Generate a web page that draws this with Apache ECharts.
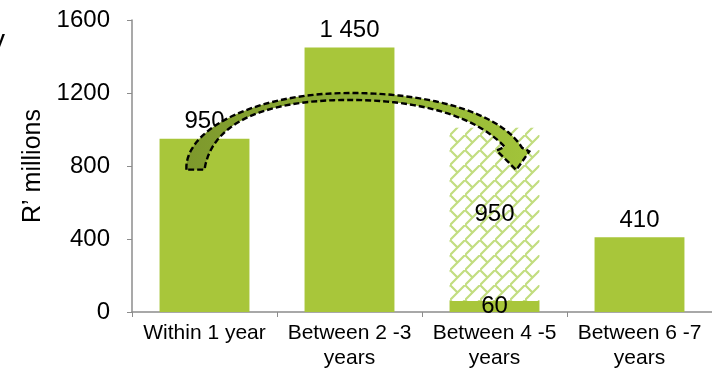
<!DOCTYPE html>
<html>
<head>
<meta charset="utf-8">
<script src="https://cdn.jsdelivr.net/npm/echarts@6/dist/echarts.min.js"></script>
<style>
  html, body { margin: 0; padding: 0; background: #fff; }
  #chart { width: 712px; height: 371px; }
</style>
</head>
<body>
<div id="chart"></div>
<script>
// Maturity profile, R' millions
const categories = ['Within 1 year', 'Between 2 -3\nyears', 'Between 4 -5\nyears', 'Between 6 -7\nyears'];
const solidValues = [950, 1450, 60, 410];
const shiftedValues = [null, null, 950, null];   // amount moved into the 4-5 year bucket
const yTicks = { min: 0, max: 1600, interval: 400 };

const GREEN = '#a8c63a';
const FONT = '"Liberation Sans", Arial, sans-serif';

// brick-style lattice fill for the shifted amount
function makeLattice() {
  const s = 15;
  const c = document.createElement('canvas');
  c.width = s; c.height = s;
  const g = c.getContext('2d');
  g.fillStyle = '#ffffff';
  g.fillRect(0, 0, s, s);
  g.strokeStyle = '#c2dd80';
  g.lineWidth = 2.2;
  g.lineCap = 'square';
  g.beginPath();
  g.moveTo(-1, s + 1); g.lineTo(s + 1, -1);
  g.moveTo(0, 0); g.lineTo(s / 2, s / 2);
  g.stroke();
  return c;
}

function spaced(v) {
  return String(v).replace(/\B(?=(\d{3})+(?!\d))/g, ' ');
}

const chart = echarts.init(document.getElementById('chart'), null, { renderer: 'canvas' });

chart.setOption({
  animation: false,
  backgroundColor: '#ffffff',
  grid: { left: 132, right: 0, top: 20, bottom: 59 },
  xAxis: {
    type: 'category',
    data: categories,
    axisLine: { lineStyle: { color: '#8c8c8c', width: 1.5 } },
    axisTick: { show: true, length: 5, lineStyle: { color: '#8c8c8c' } },
    axisLabel: { color: '#000', fontFamily: FONT, fontSize: 21, lineHeight: 25, margin: 9, interval: 0 }
  },
  yAxis: {
    type: 'value',
    min: yTicks.min, max: yTicks.max, interval: yTicks.interval,
    name: 'R’ millions',
    nameLocation: 'middle',
    nameRotate: 90,
    nameGap: 85,
    nameTextStyle: { color: '#000', fontFamily: FONT, fontSize: 25 },
    splitLine: { show: false },
    axisLine: { show: true, lineStyle: { color: '#8c8c8c', width: 1.5 } },
    axisTick: { show: true, length: 5, lineStyle: { color: '#8c8c8c' } },
    axisLabel: { color: '#000', fontFamily: FONT, fontSize: 24, margin: 22, formatter: v => String(v) }
  },
  series: [
    {
      type: 'bar',
      stack: 'total',
      barWidth: '62%',
      data: solidValues.map((v, i) => ({
        value: v,
        label: i === 2 ? { position: 'inside' } : {}
      })),
      itemStyle: { color: GREEN },
      label: {
        show: true, position: 'top', distance: 5,
        color: '#000', fontFamily: FONT, fontSize: 24,
        formatter: p => spaced(p.value)
      }
    },
    {
      type: 'bar',
      stack: 'total',
      barWidth: '62%',
      data: shiftedValues,
      itemStyle: { color: { image: makeLattice(), repeat: 'repeat' } },
      label: {
        show: true, position: 'inside',
        color: '#000', fontFamily: FONT, fontSize: 24,
        formatter: p => spaced(p.value)
      }
    }
  ]
});

// curved arrow from the first bucket over to the 4-5 year bucket,
// laid out in (category offset, value) units
const c0 = chart.convertToPixel({ xAxisIndex: 0, yAxisIndex: 0 }, [0, 0]);
const c1 = chart.convertToPixel({ xAxisIndex: 0, yAxisIndex: 0 }, [1, 0]);
const band = c1[0] - c0[0];
function P(cat, val) {
  const y = chart.convertToPixel({ yAxisIndex: 0 }, val);
  return [c0[0] + cat * band, y];
}
// sample a cubic Bezier (excluding its start point)
function cubic(a, b, c, d, n) {
  const out = [];
  for (let i = 1; i <= n; i++) {
    const t = i / n, u = 1 - t;
    out.push([
      u * u * u * a[0] + 3 * u * u * t * b[0] + 3 * u * t * t * c[0] + t * t * t * d[0],
      u * u * u * a[1] + 3 * u * u * t * b[1] + 3 * u * t * t * c[1] + t * t * t * d[1]
    ]);
  }
  return out;
}

const tailL = P(-0.125, 780), tailR = P(0.0, 780);
const peakO = P(1.0, 1200), peakI = P(1.0, 1162);
const shaftO = P(2.19, 900), shaftI = P(2.07, 905);
const barbR = P(2.24, 880), barbL = P(2.015, 885), tip = P(2.15, 778);

const arrowPts = [tailL]
  .concat(cubic(tailL, P(-0.14, 1000), P(0.35, 1200), peakO, 30))
  .concat(cubic(peakO, P(1.6, 1200), P(2.05, 1080), shaftO, 30))
  .concat([barbR, tip, barbL, shaftI])
  .concat(cubic(shaftI, P(1.9, 1050), P(1.55, 1162), peakI, 30))
  .concat(cubic(peakI, P(0.45, 1162), P(0.05, 1050), tailR, 30));

chart.setOption({
  graphic: [
    {
      type: 'polygon',
      shape: { points: arrowPts },
      style: {
        fill: {
          type: 'linear', x: 0, y: 0, x2: 1, y2: 0,
          colorStops: [
            { offset: 0, color: '#7d982c' },
            { offset: 0.5, color: '#90b036' },
            { offset: 1, color: '#a2c43a' }
          ]
        },
        stroke: '#000',
        lineWidth: 2.4,
        lineDash: [6, 3]
      },
      z: 100
    },
    {
      type: 'text',
      left: -9, top: 27,
      style: { text: 'y', fill: '#000', font: '28px ' + FONT },
      z: 100
    }
  ]
});
</script>
</body>
</html>
